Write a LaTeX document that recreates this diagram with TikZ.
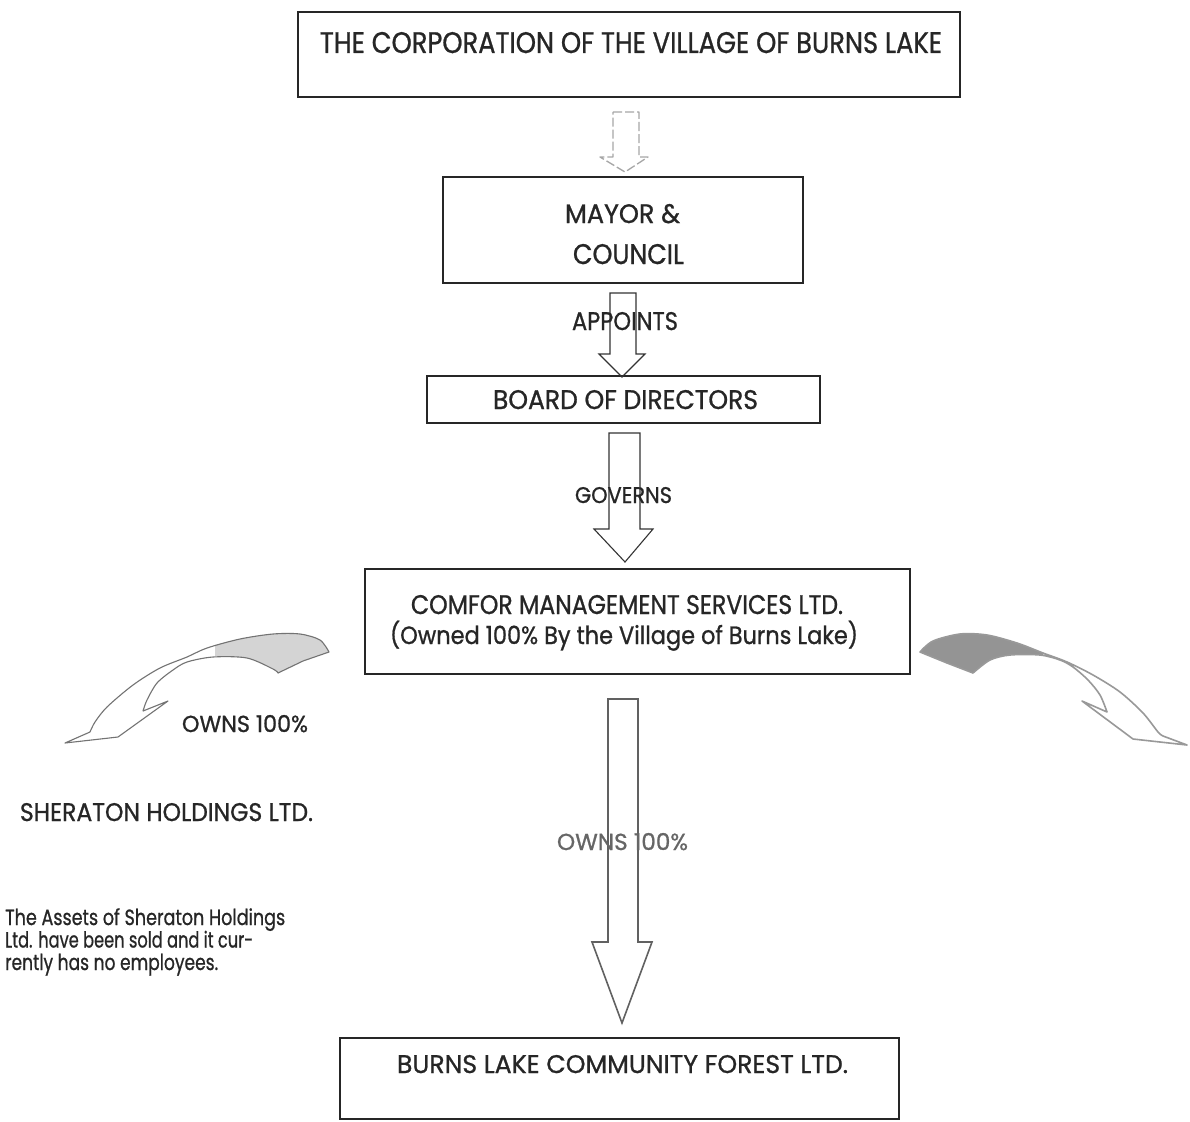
\documentclass[tikz,border=0pt]{standalone}
\usepackage{fontspec}
\setmainfont{Poppins}[FakeBold=0.9]
\usepackage{graphicx}
\newcommand{\capfit}[3]{\resizebox{#1pt}{#2pt}{#3}}
\newcommand{\widefit}[3]{\resizebox{#1pt}{\height}{\fontsize{#2}{#2}\selectfont #3}}
\tikzset{
  box/.style={draw=black!85, line width=1.6pt, inner sep=0pt},
  lbl/.style={anchor=base, inner sep=0pt, text=black!85},
  note/.style={anchor=base west, inner sep=0pt, text=black!85},
  blkdot/.style={draw=black!35, line width=1.3pt, dash pattern=on 9pt off 3pt, line join=round},
  blk/.style={draw=black!80, line width=1.1pt, line join=miter},
  blkgray/.style={draw=black!62, line width=1.6pt, line join=miter},
  curvL/.style={draw=black!55, line width=1.1pt, line join=round},
  curvR/.style={draw=black!40, line width=1.6pt, line join=round},
}
\begin{document}
\begin{tikzpicture}[x=1pt,y=-1pt]
\useasboundingbox (0,0) rectangle (1190,1121);
\fill[white] (0,0) rectangle (1190,1121);

% boxes
\node[box, minimum width=662pt, minimum height=85pt] (corp) at (629,54.5) {};
\node[box, minimum width=360pt, minimum height=106pt] (mayor) at (623,230) {};
\node[box, minimum width=393pt, minimum height=47pt] (board) at (623.5,399.5) {};
\node[box, minimum width=545pt, minimum height=105pt] (comfor) at (637.5,621.5) {};
\node[box, minimum width=559pt, minimum height=81pt] (forest) at (619.5,1078.5) {};

% block arrows
\draw[blkdot] (613,112) -- (639,112) -- (639,157) -- (648,157) -- (625,172) -- (600,157) -- (613,157) -- cycle;
\draw[blk] (610,293) -- (636,293) -- (636,354) -- (645,354) -- (622,377) -- (599,354) -- (610,354) -- cycle;
\draw[blk] (609,433) -- (640,433) -- (640,529) -- (653,529) -- (625,562) -- (594,529) -- (609,529) -- cycle;
\draw[blkgray] (608,699) -- (638,699) -- (638,942) -- (652,942) -- (622,1023) -- (592,942) -- (608,942) -- cycle;

% curved arrow left
\fill[black!17] plot[smooth] coordinates {(215,645) (240,639) (273,634) (300,634) (320,640) (329,652)}
  -- (303,661) -- (278,673)
  -- plot[smooth] coordinates {(278,673) (273,669) (247,658) (215,656)} -- cycle;
\draw[curvL] plot[smooth] coordinates {(329,652) (320,640) (300,634) (273,634) (240,639) (207,648) (187,657) (160,668) (133,685) (107,707) (95,722) (90,732)}
  -- (65,743) -- (118,737) -- (168,701) -- (143,711)
  -- plot[smooth] coordinates {(143,711) (147,700) (157,683) (173,670) (187,662) (213,657) (247,658) (273,669) (278,673)}
  -- (303,661) -- cycle;

% curved arrow right
\fill[black!42] plot[smooth] coordinates {(920,652) (933,641) (960,634) (987,635) (1017,643) (1043,653)}
  -- plot[smooth] coordinates {(1043,655) (1010,655) (990,660) (973,673)}
  -- (947,663) -- cycle;
\draw[curvR] plot[smooth] coordinates {(920,652) (933,641) (960,634) (987,635) (1017,643) (1043,653) (1067,662) (1093,675) (1120,692) (1143,713) (1158,732) (1163,736)}
  -- (1187,745) -- (1133,739) -- (1082,701) -- (1107,712)
  -- plot[smooth] coordinates {(1107,712) (1100,695) (1088,680) (1073,667) (1060,660) (1040,655) (1010,655) (990,660) (973,673)}
  -- (947,663) -- cycle;

% texts
\node[lbl] (t1) at (631,53) {\capfit{622}{21}{THE CORPORATION OF THE VILLAGE OF BURNS LAKE}};
\node[lbl] (t2a) at (622.5,223) {\capfit{115}{19}{MAYOR \&}};
\node[lbl] (t2b) at (628.5,264) {\capfit{111}{20}{COUNCIL}};
\node[lbl] (app) at (625,330) {\capfit{106}{18}{APPOINTS}};
\node[lbl] (t3) at (625.5,409) {\capfit{265}{19}{BOARD OF DIRECTORS}};
\node[lbl] (gov) at (623.5,503) {\capfit{97}{16}{GOVERNS}};
\node[lbl] (t4a) at (627,614) {\capfit{432}{19}{COMFOR MANAGEMENT SERVICES LTD.}};
\node[lbl] (t4b) at (624,644) {\widefit{468}{25}{(Owned 100\% By the Village of Burns Lake)}};
\node[lbl] (ownsL) at (245,732) {\capfit{126}{17}{OWNS 100\%}};
\node[lbl] (sher) at (166.5,821) {\capfit{293}{18}{SHERATON HOLDINGS LTD.}};
\node[lbl, text=black!60] (ownsC) at (622.5,850) {\capfit{131}{17}{OWNS 100\%}};
\node[note] (n1) at (5,925) {\widefit{280}{22}{The Assets of Sheraton Holdings}};
\node[note] (n2) at (5,947.5) {\widefit{248}{22}{Ltd. have been sold and it cur-}};
\node[note] (n3) at (5,970) {\widefit{213}{22}{rently has no employees.}};
\node[lbl] (t5) at (622.5,1073) {\capfit{451}{18}{BURNS LAKE COMMUNITY FOREST LTD.}};
\end{tikzpicture}
\end{document}
